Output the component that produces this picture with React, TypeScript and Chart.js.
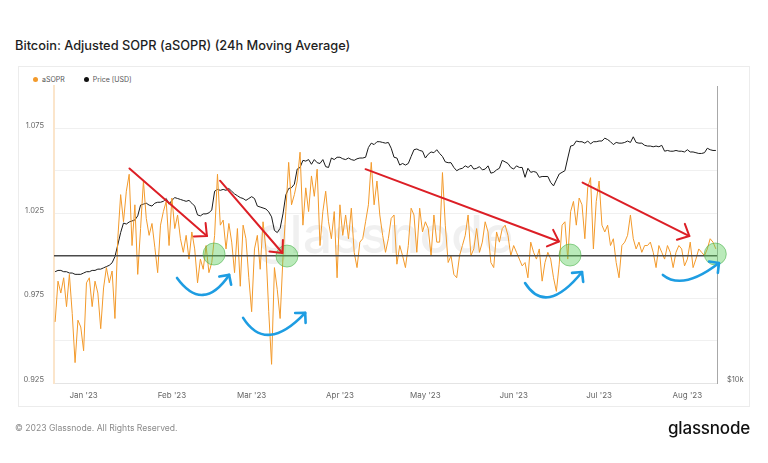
import React, { useEffect, useRef } from 'react';
import { Chart, registerables } from 'chart.js';

Chart.register(...registerables);

// x = days since 1 Jan 2023; first sample is 22 Dec 2022
const START_DAY = -10;
const X_MIN = -10.4;
const X_MAX = 222.4;

const monthTickDays = [0, 31, 59, 90, 120, 151, 181, 212];
const monthLabels = ["Jan '23", "Feb '23", "Mar '23", "Apr '23", "May '23", "Jun '23", "Jul '23", "Aug '23"];

const yGridValues = [0.925, 0.95, 0.975, 1.0, 1.025, 1.05, 1.075];
const yLabelValues = [0.925, 0.975, 1.025, 1.075];
const priceTickValues = [10000];
const priceTickLabels = ['$10k'];

// aSOPR (24h MA), one value per day from 22 Dec 2022
const asopr = [
  0.961, 0.985, 0.978, 0.987, 0.970, 0.989, 0.966, 0.937, 0.962, 0.958,
  0.944, 0.984, 0.987, 0.970, 0.985, 0.978, 0.957, 0.981, 0.993, 0.984,
  0.991, 0.963, 1.010, 1.036, 1.020, 1.038, 1.048, 1.006, 1.030, 0.989,
  1.016, 1.044, 1.022, 1.012, 1.019, 1.005, 0.990, 1.018, 1.026, 1.032,
  1.006, 1.034, 1.016, 1.024, 1.010, 1.002, 1.012, 0.998, 1.014, 1.004,
  0.984, 0.998, 0.992, 1.006, 0.990, 0.996, 1.012, 1.048, 1.018, 1.021,
  1.004, 1.019, 1.008, 0.990, 1.016, 0.982, 1.018, 1.010, 0.987, 0.967,
  1.004, 1.012, 0.992, 1.020, 1.004, 0.967, 0.936, 0.993, 0.980, 0.963,
  0.999, 1.026, 1.055, 1.030, 1.036, 1.044, 1.061, 1.018, 1.040, 1.026,
  1.047, 1.035, 1.051, 1.006, 1.026, 1.038, 1.020, 1.010, 1.026, 0.987,
  1.030, 1.012, 1.024, 1.010, 1.028, 1.002, 0.993, 1.008, 1.010, 1.020,
  1.030, 1.055, 1.030, 1.044, 1.024, 1.012, 1.002, 1.010, 1.022, 1.024,
  0.995, 1.006, 1.000, 0.993, 1.006, 1.028, 1.024, 1.002, 1.028, 1.014,
  1.020, 1.016, 1.000, 1.024, 1.008, 1.008, 1.049, 1.018, 0.996, 1.000,
  0.989, 0.987, 1.000, 1.006, 1.012, 1.024, 1.000, 1.004, 1.016, 1.002,
  1.008, 1.020, 1.014, 0.996, 0.993, 1.014, 1.008, 1.016, 1.018, 1.012,
  1.000, 1.006, 1.002, 0.998, 0.994, 0.996, 0.987, 1.008, 1.002, 0.998,
  1.004, 0.985, 0.996, 1.002, 0.998, 0.987, 0.979, 0.995, 1.018, 1.020,
  0.998, 1.026, 1.032, 1.018, 1.034, 1.030, 1.010, 1.040, 1.046, 1.004,
  1.032, 1.044, 1.018, 1.014, 1.018, 1.006, 1.010, 0.996, 0.987, 1.006,
  1.008, 1.012, 1.024, 1.010, 1.004, 1.008, 1.002, 1.006, 1.006, 1.008,
  1.002, 0.993, 1.006, 1.002, 0.998, 1.006, 1.002, 0.993, 1.002, 1.006,
  1.004, 0.994, 0.998, 1.008, 0.993, 0.998, 1.004, 1.002, 1.000, 1.004,
  1.010, 1.008, 1.004,
];

// BTC price in thousands of USD, one value per day from 22 Dec 2022
const priceK = [
  16.7, 16.8, 16.8, 16.7, 16.7, 16.6, 16.6, 16.5, 16.5, 16.5,
  16.6, 16.7, 16.7, 16.8, 16.8, 16.9, 16.9, 17.0, 17.1, 17.2,
  17.4, 17.9, 18.9, 20.0, 20.9, 20.8, 21.0, 21.1, 21.2, 21.6,
  22.7, 22.8, 22.9, 22.7, 22.6, 22.9, 23.0, 23.0, 23.1, 23.4,
  22.8, 23.2, 23.5, 23.4, 23.3, 23.2, 23.1, 23.2, 22.9, 22.6,
  21.7, 21.6, 21.8, 21.8, 21.9, 22.2, 24.2, 24.4, 24.3, 24.4,
  24.3, 24.5, 24.2, 23.9, 23.7, 23.5, 23.4, 23.2, 23.4, 23.6,
  23.4, 22.6, 22.5, 22.4, 22.3, 22.0, 21.5, 20.2, 20.0, 20.4,
  21.8, 23.8, 24.5, 24.6, 25.0, 26.8, 27.0, 27.9, 27.8, 28.0,
  27.4, 28.0, 27.6, 27.5, 28.0, 27.1, 27.0, 28.2, 28.0, 28.3,
  28.3, 28.1, 28.0, 28.2, 28.0, 27.9, 28.1, 28.2, 28.2, 28.3,
  29.6, 30.2, 30.0, 30.4, 30.4, 30.3, 30.2, 30.3, 29.5, 28.3,
  28.2, 27.3, 27.5, 27.3, 27.5, 28.4, 29.3, 29.4, 29.2, 29.1,
  28.2, 28.7, 29.0, 28.9, 29.3, 28.8, 28.4, 27.7, 27.6, 27.6,
  27.0, 26.6, 26.8, 26.9, 27.2, 27.0, 27.3, 26.8, 26.9, 27.1,
  26.7, 26.8, 27.2, 26.3, 26.4, 26.7, 26.9, 27.9, 27.7, 27.5,
  27.0, 26.8, 27.2, 27.0, 27.0, 25.8, 26.9, 26.4, 26.5, 26.4,
  25.8, 25.9, 25.9, 25.9, 25.2, 24.8, 25.5, 26.2, 26.4, 26.6,
  28.2, 29.8, 29.9, 30.5, 30.4, 30.4, 30.2, 30.5, 30.1, 30.4,
  30.4, 30.5, 30.5, 30.9, 30.7, 30.4, 30.0, 30.3, 30.2, 30.2,
  30.3, 30.5, 30.3, 31.1, 30.3, 30.2, 30.2, 29.9, 29.8, 29.8,
  29.7, 29.8, 29.7, 29.9, 29.1, 29.2, 29.1, 29.1, 29.2, 29.1,
  29.1, 29.0, 29.3, 29.0, 29.0, 28.9, 28.8, 28.8, 28.9, 29.5,
  29.3, 29.2, 29.2,
];

// Hand-drawn annotations, in data coordinates (day, aSOPR)
const redArrows = [
  [16.1, 1.0514, 43.3, 1.0116],
  [47.9, 1.0442, 69.8, 1.0016],
  [99.0, 1.0510, 166.9, 1.0084],
  [175.2, 1.0431, 212.7, 1.0116],
];
const greenCircles = [
  [45.8, 1.001],
  [71.4, 0.9998],
  [170.8, 1.0004],
  [221.8, 1.001],
];
// start, middle, end points of each blue swoosh
const blueSwooshes = [
  [32.8, 0.9869, 41.9, 0.9769, 51.1, 0.9887],
  [56.0, 0.9634, 65.5, 0.9534, 77.8, 0.9663],
  [155.0, 0.9839, 163.7, 0.9757, 175.0, 0.9904],
  [203.4, 0.9887, 211.8, 0.9857, 223.1, 0.9957],
];
const referenceLevel = 1.0;

const ORANGE = '#f39a2b';
const FONT = 'Inter, "Noto Sans", sans-serif';

function drawArrowHead(ctx: CanvasRenderingContext2D, tx: number, ty: number, fx: number, fy: number, len: number, spread: number) {
  const ang = Math.atan2(fy - ty, fx - tx);
  ctx.beginPath();
  ctx.moveTo(tx + len * Math.cos(ang - spread), ty + len * Math.sin(ang - spread));
  ctx.lineTo(tx, ty);
  ctx.lineTo(tx + len * Math.cos(ang + spread), ty + len * Math.sin(ang + spread));
  ctx.stroke();
}

const annotationPlugin = {
  id: 'handAnnotations',
  beforeDatasetsDraw(chart: any) {
    const { ctx, chartArea: a } = chart;
    ctx.save();
    ctx.font = `500 52px ${FONT}`;
    ctx.fillStyle = 'rgba(0,0,0,0.06)';
    ctx.textAlign = 'center';
    ctx.textBaseline = 'middle';
    ctx.fillText('glassnode', (a.left + a.right) / 2, (a.top + a.bottom) / 2 + 3);
    ctx.restore();
  },
  afterDatasetsDraw(chart: any) {
    const { ctx, chartArea: a } = chart;
    const xs = chart.scales.x;
    const ys = chart.scales.y;
    const X = (d: number) => xs.getPixelForValue(d);
    const Y = (v: number) => ys.getPixelForValue(v);
    ctx.save();
    // reference line at 1.0
    ctx.strokeStyle = '#4a4a4a';
    ctx.lineWidth = 1.6;
    ctx.beginPath();
    ctx.moveTo(a.left, Y(referenceLevel));
    ctx.lineTo(a.right, Y(referenceLevel));
    ctx.stroke();

    // green circles
    greenCircles.forEach(([d, v]) => {
      ctx.beginPath();
      ctx.arc(X(d), Y(v), 11, 0, Math.PI * 2);
      ctx.fillStyle = 'rgba(90,205,90,0.42)';
      ctx.fill();
      ctx.strokeStyle = 'rgba(70,175,70,0.55)';
      ctx.lineWidth = 1;
      ctx.stroke();
    });

    // red arrows
    ctx.strokeStyle = '#dc1f26';
    ctx.lineWidth = 2;
    ctx.lineCap = 'round';
    ctx.lineJoin = 'round';
    redArrows.forEach(([d1, v1, d2, v2]) => {
      const x1 = X(d1), y1 = Y(v1), x2 = X(d2), y2 = Y(v2);
      ctx.beginPath();
      ctx.moveTo(x1, y1);
      ctx.lineTo(x2, y2);
      ctx.stroke();
      drawArrowHead(ctx, x2, y2, x1, y1, 13, 0.75);
    });

    // blue swooshes
    ctx.strokeStyle = '#1e9de2';
    ctx.lineWidth = 2.6;
    blueSwooshes.forEach(([ds, vs, dm, vm, de, ve]) => {
      const sx = X(ds), sy = Y(vs), mx = X(dm), my = Y(vm), ex = X(de), ey = Y(ve);
      const cx = 2 * mx - (sx + ex) / 2;
      const cy = 2 * my - (sy + ey) / 2;
      ctx.beginPath();
      ctx.moveTo(sx, sy);
      ctx.quadraticCurveTo(cx, cy, ex, ey);
      ctx.stroke();
      drawArrowHead(ctx, ex, ey, cx, cy, 10, 0.8);
    });
    ctx.restore();
  },
};

export default function App() {
  const ref = useRef<HTMLCanvasElement>(null);

  useEffect(() => {
    const canvas = ref.current;
    if (!canvas) return;
    const asoprPoints = asopr.map((v, i) => ({ x: START_DAY + i, y: v }));
    const pricePoints = priceK.map((v, i) => ({ x: START_DAY + i, y: v * 1000 }));

    const chart = new Chart(canvas, {
      type: 'line',
      data: {
        datasets: [
          {
            label: 'aSOPR',
            data: asoprPoints,
            yAxisID: 'y',
            borderColor: ORANGE,
            borderWidth: 1,
            pointRadius: 0,
            tension: 0,
          },
          {
            label: 'Price [USD]',
            data: pricePoints,
            yAxisID: 'y2',
            borderColor: '#1a1a1a',
            borderWidth: 1,
            pointRadius: 0,
            tension: 0,
          },
        ],
      },
      options: {
        responsive: false,
        maintainAspectRatio: false,
        animation: false,
        events: [],
        layout: { padding: { top: 86, left: 0, right: 0, bottom: 0 } },
        plugins: {
          legend: { display: false },
          tooltip: { enabled: false },
          title: { display: false },
        },
        scales: {
          x: {
            type: 'linear',
            min: X_MIN,
            max: X_MAX,
            afterBuildTicks: (s: any) => {
              s.ticks = monthTickDays.map((v) => ({ value: v }));
            },
            afterFit: (s: any) => {
              s.height = 80;
            },
            ticks: {
              autoSkip: false,
              maxRotation: 0,
              padding: 8,
              color: '#666',
              font: { family: FONT, size: 8 },
              callback: (v: any) => {
                const i = monthTickDays.indexOf(Number(v));
                return i >= 0 ? monthLabels[i] : '';
              },
            },
            grid: { display: false, drawTicks: false },
            border: { display: true, color: '#e4e4e4', width: 1 },
          },
          y: {
            type: 'linear',
            position: 'left',
            min: 0.925,
            max: 1.1,
            afterBuildTicks: (s: any) => {
              s.ticks = yGridValues.map((v) => ({ value: v }));
            },
            afterFit: (s: any) => {
              s.width = 54;
            },
            ticks: {
              padding: 10,
              labelOffset: -3,
              color: '#666',
              font: { family: FONT, size: 7.5 },
              callback: (v: any) => {
                const n = Number(v);
                return yLabelValues.some((l) => Math.abs(l - n) < 1e-6) ? n.toFixed(3) : '';
              },
            },
            grid: { color: '#f0f0f0', drawTicks: false, lineWidth: 1 },
            border: { display: true, color: '#fbe5cb', width: 2 },
          },
          y2: {
            type: 'logarithmic',
            position: 'right',
            min: 10000,
            max: 39300,
            afterBuildTicks: (s: any) => {
              s.ticks = priceTickValues.map((v) => ({ value: v }));
            },
            afterFit: (s: any) => {
              s.width = 51;
            },
            ticks: {
              padding: 10,
              labelOffset: -3,
              color: '#666',
              font: { family: FONT, size: 7.5 },
              callback: (v: any) => {
                const i = priceTickValues.indexOf(Number(v));
                return i >= 0 ? priceTickLabels[i] : '';
              },
            },
            grid: { drawOnChartArea: false, drawTicks: false },
            border: { display: true, color: '#a8a8a8', width: 1 },
          },
        },
      },
      plugins: [annotationPlugin],
    } as any);

    return () => chart.destroy();
  }, []);

  return (
    <div
      style={{
        position: 'absolute',
        left: 0,
        top: 0,
        width: 768,
        height: 463,
        background: '#fff',
        overflow: 'hidden',
        fontFamily: FONT,
      }}
    >
      <div
        style={{
          position: 'absolute',
          left: 15,
          top: 37,
          fontSize: 12.8,
          lineHeight: '17px',
          fontWeight: 500,
          color: '#1e1e1e',
          whiteSpace: 'nowrap',
        }}
      >
        Bitcoin: Adjusted SOPR (aSOPR) (24h Moving Average)
      </div>
      <div
        style={{
          position: 'absolute',
          left: 18,
          top: 66,
          width: 732,
          height: 341,
          border: '1px solid #ececec',
          boxSizing: 'border-box',
        }}
      />
      <div
        style={{
          position: 'absolute',
          left: 33,
          top: 74,
          height: 10,
          display: 'flex',
          alignItems: 'center',
          fontSize: 7,
          color: '#555',
          whiteSpace: 'nowrap',
        }}
      >
        <span style={{ width: 5, height: 5, borderRadius: '50%', background: ORANGE, display: 'inline-block', marginRight: 4 }} />
        <span style={{ marginRight: 19 }}>aSOPR</span>
        <span style={{ width: 5, height: 5, borderRadius: '50%', background: '#111', display: 'inline-block', marginRight: 4 }} />
        <span>Price [USD]</span>
      </div>
      <canvas
        ref={ref}
        width={768}
        height={463}
        style={{ position: 'absolute', left: 0, top: 0, width: 768, height: 463 }}
      />
      <div
        style={{
          position: 'absolute',
          left: 15,
          top: 422,
          fontSize: 8.6,
          lineHeight: '12px',
          color: '#8a8a8a',
          whiteSpace: 'nowrap',
        }}
      >
        © 2023 Glassnode. All Rights Reserved.
      </div>
      <div
        style={{
          position: 'absolute',
          right: 18,
          top: 417,
          fontSize: 17,
          lineHeight: '22px',
          fontWeight: 500,
          color: '#111',
          letterSpacing: -0.2,
          whiteSpace: 'nowrap',
        }}
      >
        glassnode
      </div>
    </div>
  );
}
